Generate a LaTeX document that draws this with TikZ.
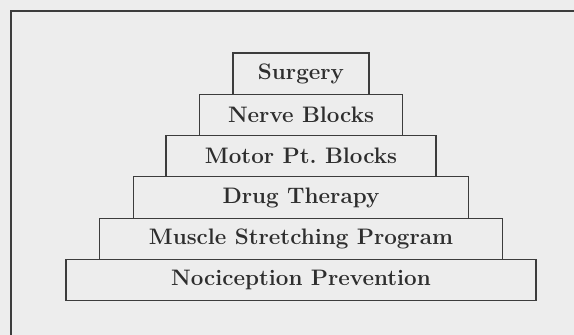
\documentclass[tikz,border=0pt]{standalone}
\usepackage{tikz}
\usetikzlibrary{positioning}
\definecolor{paper}{HTML}{EDEDED}
\definecolor{ink}{HTML}{3C3C3C}
\definecolor{type}{HTML}{2E2E2E}
\newcommand{\lvl}{\fontsize{22.4}{26}\selectfont\bfseries}

\begin{document}
\begin{tikzpicture}[
  x=1pt, y=-1pt,
  tier/.style  = {draw=ink, line width=1.1pt, fill=paper, text=type, font=\lvl,
                  minimum height=41.3pt, inner sep=0pt, outer sep=0pt},
  frame/.style = {draw=ink, line width=1.1pt}
]

% ---------- page and outer frame ----------------------------------------
\fill[paper] (0,0) rectangle (574,335);
\useasboundingbox (0,0) rectangle (574,335);
\clip (0,0) rectangle (574,335);
\draw[frame] (590,11) -- (11,11) -- (11,350);

% ---------- pyramid, top step first --------------------------------------
\node[tier, minimum width=136pt, anchor=north] (surgery) at (301,53) {Surgery};
\node[tier, minimum width=203pt, below=0pt of surgery] (nerve)  {Nerve Blocks};
\node[tier, minimum width=270pt, below=0pt of nerve]   (motor)  {Motor Pt.\ Blocks};
\node[tier, minimum width=335pt, below=0pt of motor]   (drug)   {Drug Therapy};
\node[tier, minimum width=403pt, below=0pt of drug]    (muscle) {Muscle Stretching Program};
\node[tier, minimum width=470pt, below=0pt of muscle]  (noci)   {Nociception Prevention};

\end{tikzpicture}
\end{document}
